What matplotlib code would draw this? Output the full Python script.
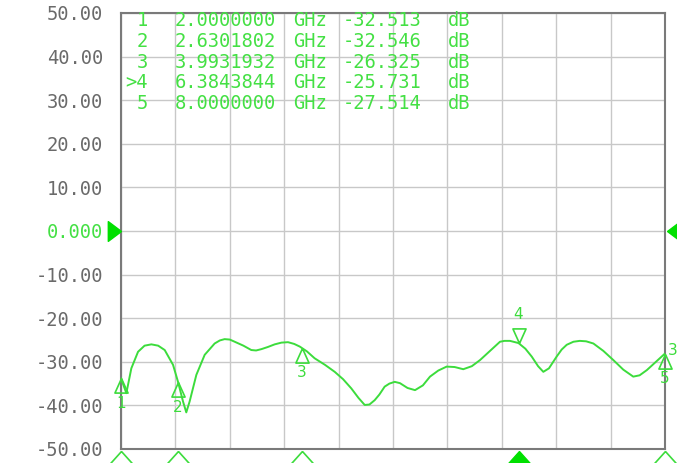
import matplotlib
matplotlib.use('Agg')
import matplotlib.pyplot as plt
import numpy as np

# trace, GHz / dB
freq = [2.000, 2.059, 2.114, 2.188, 2.260, 2.335, 2.410, 2.482, 2.574, 2.629,
        2.684, 2.720, 2.757, 2.831, 2.923, 3.033, 3.090, 3.143, 3.200, 3.254,
        3.350, 3.437, 3.490, 3.548, 3.620, 3.695, 3.770, 3.842, 3.910, 3.971,
        4.050, 4.136, 4.250, 4.357, 4.450, 4.540, 4.620, 4.688, 4.740, 4.798,
        4.850, 4.908, 4.960, 5.019, 5.077, 5.160, 5.243, 5.330, 5.408, 5.500,
        5.592, 5.680, 5.775, 5.870, 5.960, 6.070, 6.180, 6.230, 6.290, 6.384,
        6.460, 6.530, 6.600, 6.658, 6.720, 6.805, 6.860, 6.916, 6.990, 7.060,
        7.130, 7.210, 7.320, 7.430, 7.540, 7.650, 7.720, 7.800, 7.900, 8.000]
s11 = [-33.8, -37.2, -31.5, -27.7, -26.3, -26.0, -26.3, -27.3, -30.7, -34.6,
       -39.1, -41.6, -39.1, -33.0, -28.4, -25.8, -25.1, -24.8, -24.9, -25.4,
       -26.3, -27.3, -27.4, -27.1, -26.6, -26.0, -25.6, -25.5, -25.9, -26.5,
       -27.6, -29.2, -30.7, -32.3, -34.0, -36.1, -38.3, -39.9, -39.8, -38.8,
       -37.5, -35.7, -35.0, -34.6, -34.9, -36.0, -36.5, -35.4, -33.4, -32.0,
       -31.1, -31.2, -31.7, -31.0, -29.6, -27.5, -25.4, -25.2, -25.2, -25.7,
       -27.0, -28.8, -31.0, -32.3, -31.5, -28.8, -27.2, -26.1, -25.4, -25.2,
       -25.3, -25.8, -27.5, -29.6, -31.8, -33.4, -33.1, -31.9, -30.0, -28.1]

# marker table
mk_id   = ['1', '2', '3', '>4', '5']
mk_freq = [2.0000000, 2.6301802, 3.9931932, 6.3843844, 8.0000000]
mk_val  = [-32.513, -32.546, -26.325, -25.731, -27.514]
active  = 3

yticks  = [50, 40, 30, 20, 10, 0, -10, -20, -30, -40, -50]
ylabels = ['50.00', '40.00', '30.00', '20.00', '10.00', '0.000',
           '-10.00', '-20.00', '-30.00', '-40.00', '-50.00']

W, H = 677, 463
GREEN  = '#3cdc3c'
TGREEN = '#44e044'
FILL   = '#00e000'
GRAY   = '#6a6a6a'

fig = plt.figure(figsize=(W/100, H/100), dpi=100)
fig.patch.set_facecolor('white')
ax = fig.add_axes([121/W, (H-449)/H, 544/W, 436/H])

ax.set_xlim(2.0, 8.0)
ax.set_ylim(-50, 50)
ax.set_xticks(np.linspace(2.0, 8.0, 11))
ax.set_xticklabels([])
ax.set_yticks(yticks)
ax.set_yticklabels(ylabels, family='DejaVu Sans Mono', fontsize=13.5, color=GRAY)
ax.get_yticklabels()[5].set_color(TGREEN)
ax.tick_params(length=0, pad=13)
ax.grid(True, color='#c8c8c8', lw=1)
for sp in ax.spines.values():
    sp.set_color('#7a7a7a')
    sp.set_linewidth(1.5)

ax.plot(freq, s11, color=GREEN, lw=1.4, zorder=3)

# markers on trace
up   = [(0, 0), (-0.45, -1), (0.45, -1), (0, 0)]
down = [(0, 0), (-0.45, 1), (0.45, 1), (0, 0)]
for i, f in enumerate(mk_freq):
    y = np.interp(f, freq, s11)
    if i == active:
        ax.plot(f, y, marker=down, ms=21, mfc='none', mec=GREEN, mew=1.2,
                clip_on=False, zorder=4)
        ax.annotate('4', (f, y), xytext=(0, 29), textcoords='offset pixels',
                    ha='center', va='center', color=GREEN, fontsize=11,
                    annotation_clip=False)
    else:
        ax.plot(f, y, marker=up, ms=21, mfc='none', mec=GREEN, mew=1.2,
                clip_on=False, zorder=4)
        ax.annotate(mk_id[i], (f, y), xytext=(0, -25), textcoords='offset pixels',
                    ha='center', va='center', color=GREEN, fontsize=11,
                    annotation_clip=False)
ax.annotate('3', (8.0, np.interp(8.0, freq, s11)), xytext=(8, 3),
            textcoords='offset pixels', ha='center', va='center',
            color=GREEN, fontsize=11, annotation_clip=False)

# marker positions under the x axis
base = [(0, 0), (-0.9, -1), (0.9, -1), (0, 0)]
for i, f in enumerate(mk_freq):
    if i == active:
        ax.plot(f, -50.45, marker=base, ms=22, mfc=FILL, mec=FILL, mew=1,
                clip_on=False, zorder=5)
    else:
        ax.plot(f, -50.45, marker=base, ms=18, mfc='none', mec=GREEN, mew=1.2,
                clip_on=False, zorder=5)

# reference level arrows
ax.plot(2.0, 0, marker=[(0, 0), (-1, 0.75), (-1, -0.75), (0, 0)], ms=19,
        mfc=FILL, mec=FILL, clip_on=False, zorder=5)
ax.plot(8.022, 0, marker=[(0, 0), (1, 0.75), (1, -0.75), (0, 0)], ms=19,
        mfc=FILL, mec=FILL, clip_on=False, zorder=5)

# marker readout table
rows_y = [20.5, 41.5, 62.5, 83.0, 103.5]
for k in range(len(mk_id)):
    yy = 1 - rows_y[k]/H
    kw = dict(family='DejaVu Sans Mono', fontsize=13.5, color=TGREEN, va='center')
    fig.text(148/W, yy, mk_id[k], ha='right', **kw)
    fig.text(175/W, yy, '%.7f' % mk_freq[k], ha='left', **kw)
    fig.text(293/W, yy, 'GHz', ha='left', **kw)
    fig.text(343/W, yy, '%.3f' % mk_val[k], ha='left', **kw)
    fig.text(448/W, yy, 'dB', ha='left', **kw)

fig.savefig('out.png', dpi=100)
